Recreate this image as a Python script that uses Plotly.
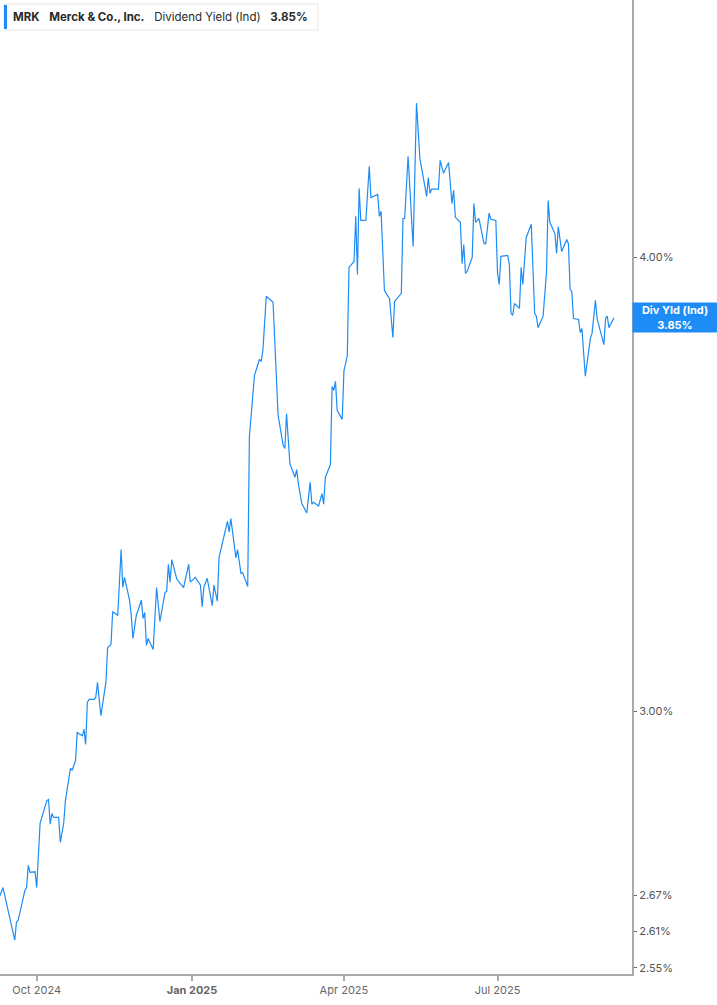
import math
import plotly.graph_objects as go

# MRK dividend yield (indicated)
dates = [
    "2024-09-09", "2024-09-11", "2024-09-18", "2024-09-19", "2024-09-20", "2024-09-24", "2024-09-25", "2024-09-26", "2024-09-27", "2024-09-30",
    "2024-10-01", "2024-10-03", "2024-10-07", "2024-10-08", "2024-10-09", "2024-10-10", "2024-10-11", "2024-10-14", "2024-10-15", "2024-10-17",
    "2024-10-18", "2024-10-21", "2024-10-22", "2024-10-24", "2024-10-25", "2024-10-28", "2024-10-29", "2024-10-30", "2024-10-31", "2024-11-01",
    "2024-11-04", "2024-11-05", "2024-11-06", "2024-11-08", "2024-11-11", "2024-11-12", "2024-11-14", "2024-11-15", "2024-11-18", "2024-11-20",
    "2024-11-21", "2024-11-22", "2024-11-25", "2024-11-26", "2024-11-27", "2024-11-29", "2024-12-02", "2024-12-03", "2024-12-04", "2024-12-05",
    "2024-12-06", "2024-12-09", "2024-12-11", "2024-12-13", "2024-12-16", "2024-12-17", "2024-12-18", "2024-12-19", "2024-12-20", "2024-12-23",
    "2024-12-27", "2024-12-30", "2024-12-31", "2025-01-03", "2025-01-06", "2025-01-07", "2025-01-08", "2025-01-10", "2025-01-13", "2025-01-14",
    "2025-01-16", "2025-01-17", "2025-01-22", "2025-01-23", "2025-01-24", "2025-01-27", "2025-01-28", "2025-01-30", "2025-01-31", "2025-02-03",
    "2025-02-04", "2025-02-06", "2025-02-07", "2025-02-10", "2025-02-11", "2025-02-12", "2025-02-14", "2025-02-18", "2025-02-21", "2025-02-24",
    "2025-02-25", "2025-02-26", "2025-02-28", "2025-03-03", "2025-03-04", "2025-03-05", "2025-03-07", "2025-03-10", "2025-03-12", "2025-03-13",
    "2025-03-14", "2025-03-17", "2025-03-19", "2025-03-20", "2025-03-21", "2025-03-24", "2025-03-25", "2025-03-26", "2025-03-27", "2025-03-28",
    "2025-03-31", "2025-04-01", "2025-04-02", "2025-04-03", "2025-04-04", "2025-04-07", "2025-04-08", "2025-04-09", "2025-04-10", "2025-04-11",
    "2025-04-14", "2025-04-16", "2025-04-17", "2025-04-21", "2025-04-22", "2025-04-23", "2025-04-25", "2025-04-28", "2025-04-30", "2025-05-01",
    "2025-05-05", "2025-05-06", "2025-05-07", "2025-05-09", "2025-05-12", "2025-05-14", "2025-05-16", "2025-05-20", "2025-05-21", "2025-05-22",
    "2025-05-23", "2025-05-27", "2025-05-28", "2025-05-30", "2025-06-02", "2025-06-04", "2025-06-05", "2025-06-06", "2025-06-09", "2025-06-10",
    "2025-06-11", "2025-06-12", "2025-06-13", "2025-06-16", "2025-06-17", "2025-06-18", "2025-06-20", "2025-06-23", "2025-06-24", "2025-06-26",
    "2025-06-27", "2025-06-30", "2025-07-01", "2025-07-02", "2025-07-03", "2025-07-07", "2025-07-08", "2025-07-09", "2025-07-10", "2025-07-11",
    "2025-07-14", "2025-07-15", "2025-07-16", "2025-07-18", "2025-07-21", "2025-07-23", "2025-07-24", "2025-07-25", "2025-07-28", "2025-07-30",
    "2025-07-31", "2025-08-01", "2025-08-04", "2025-08-05", "2025-08-06", "2025-08-08", "2025-08-11", "2025-08-12", "2025-08-13", "2025-08-14",
    "2025-08-15", "2025-08-18", "2025-08-19", "2025-08-20", "2025-08-22", "2025-08-25", "2025-08-26", "2025-08-28", "2025-08-29", "2025-09-02",
    "2025-09-03", "2025-09-04", "2025-09-05", "2025-09-08",
]

div_yield = [
    2.668, 2.683, 2.595, 2.625, 2.628, 2.678, 2.683, 2.721, 2.709, 2.710,
    2.683, 2.795, 2.835, 2.837, 2.793, 2.812, 2.805, 2.805, 2.761, 2.795,
    2.835, 2.894, 2.890, 2.908, 2.960, 2.954, 2.966, 2.938, 3.017, 3.023,
    3.023, 3.027, 3.056, 2.992, 3.056, 3.124, 3.130, 3.196, 3.188, 3.324,
    3.245, 3.266, 3.219, 3.188, 3.142, 3.188, 3.219, 3.182, 3.194, 3.128,
    3.142, 3.120, 3.245, 3.176, 3.235, 3.237, 3.293, 3.256, 3.303, 3.262,
    3.245, 3.293, 3.256, 3.266, 3.250, 3.206, 3.245, 3.264, 3.208, 3.250,
    3.217, 3.307, 3.384, 3.361, 3.390, 3.307, 3.324, 3.274, 3.276, 3.247,
    3.571, 3.679, 3.712, 3.750, 3.745, 3.771, 3.903, 3.888, 3.619, 3.551,
    3.544, 3.623, 3.510, 3.480, 3.497, 3.466, 3.423, 3.402, 3.469, 3.421,
    3.425, 3.417, 3.444, 3.421, 3.480, 3.508, 3.686, 3.677, 3.698, 3.630,
    3.610, 3.722, 3.740, 3.759, 3.975, 3.990, 4.106, 3.957, 4.179, 4.095,
    4.095, 4.238, 4.155, 4.163, 4.106, 4.119, 3.917, 3.897, 3.802, 3.890,
    3.910, 4.100, 4.100, 4.265, 4.028, 4.411, 4.259, 4.158, 4.208, 4.166,
    4.177, 4.177, 4.254, 4.219, 4.248, 4.139, 4.174, 4.103, 4.090, 3.984,
    4.033, 3.960, 3.965, 4.000, 4.139, 4.090, 4.100, 4.035, 4.035, 4.114,
    4.098, 4.095, 3.960, 3.932, 4.003, 4.005, 3.982, 3.861, 3.856, 3.885,
    3.873, 3.975, 3.932, 4.051, 4.085, 3.861, 3.854, 3.826, 3.854, 3.962,
    4.147, 4.090, 4.061, 4.010, 4.079, 4.015, 4.046, 4.035, 3.920, 3.915,
    3.848, 3.846, 3.814, 3.824, 3.710, 3.800, 3.812, 3.893, 3.848, 3.785,
    3.848, 3.854, 3.826, 3.850,
]

x_tickvals = ["2024-10-01", "2025-01-01", "2025-04-01", "2025-07-01"]
x_ticktext = ["Oct 2024", "<b>Jan 2025</b>", "Apr 2025", "Jul 2025"]
y_tickvals = [2.55, 2.61, 2.67, 3.00, 4.00]
y_ticktext = ["2.55%", "2.61%", "2.67%", "3.00%", "4.00%"]

last_val = div_yield[-1]
blue = "#1e8cf5"

W, H = 717, 1005
PW, PH = 632, 974  # plot area in pixels


def px(x):
    return x / PW


def py(y):
    return 1 - y / PH


fig = go.Figure()
fig.add_trace(go.Scatter(x=dates, y=div_yield, mode="lines",
                         line=dict(color=blue, width=1.2),
                         name="Div Yld (Ind)", hoverinfo="x+y"))

fig.update_layout(
    width=W, height=H,
    margin=dict(l=0, r=W - PW, t=0, b=H - PH),
    paper_bgcolor="white", plot_bgcolor="white",
    showlegend=False,
    font=dict(family="Inter, Roboto, sans-serif", color="#555"),
    xaxis=dict(
        range=["2024-09-09 06:00", "2025-09-18 16:00"],
        tickvals=x_tickvals, ticktext=x_ticktext,
        showgrid=False, zeroline=False,
        showline=True, linecolor="#aaaaaa", linewidth=2,
        ticks="outside", ticklen=5, tickcolor="#aaaaaa", tickwidth=1.5,
        tickfont=dict(size=11, color="#666"),
    ),
    yaxis=dict(
        type="log", side="right",
        range=[math.log10(2.540), math.log10(4.709)],
        tickvals=y_tickvals, ticktext=y_ticktext,
        showgrid=False, zeroline=False,
        showline=True, linecolor="#aaaaaa", linewidth=2,
        ticks="outside", ticklen=3, tickcolor="#666", tickwidth=1,
        tickfont=dict(size=11, color="#555"),
    ),
)

# header box top-left
fig.add_shape(type="rect", xref="paper", yref="paper",
              x0=px(4), x1=px(318), y0=py(30), y1=py(4),
              line=dict(color="#e6e6e6", width=1), fillcolor="white", layer="above")
fig.add_shape(type="rect", xref="paper", yref="paper",
              x0=px(4), x1=px(7), y0=py(29), y1=py(5),
              line=dict(width=0), fillcolor=blue, layer="above")
fig.add_annotation(
    xref="paper", yref="paper", x=px(11), y=py(17),
    xanchor="left", yanchor="middle", showarrow=False,
    text=("<b>MRK</b>&nbsp;&nbsp;&nbsp;<b>Merck &amp; Co., Inc.</b>&nbsp;&nbsp;&nbsp;"
          "Dividend Yield (Ind)&nbsp;&nbsp;&nbsp;<b>%.2f%%</b>" % last_val),
    font=dict(size=11.5, color="#2a2a2a", family="Inter, sans-serif"),
)

# last value label on the right axis
fig.add_annotation(
    xref="paper", yref="y", x=px(675), y=math.log10(last_val),
    xanchor="center", yanchor="middle", showarrow=False,
    text="<b>Div Yld (Ind)</b><br><b>%.2f%%</b>" % last_val,
    font=dict(size=11, color="white", family="Inter, sans-serif"),
    bgcolor=blue, width=84, height=29, borderpad=0,
)

fig.write_html("out.html", config={"displayModeBar": False},
               post_script="document.body.style.margin='0';")
